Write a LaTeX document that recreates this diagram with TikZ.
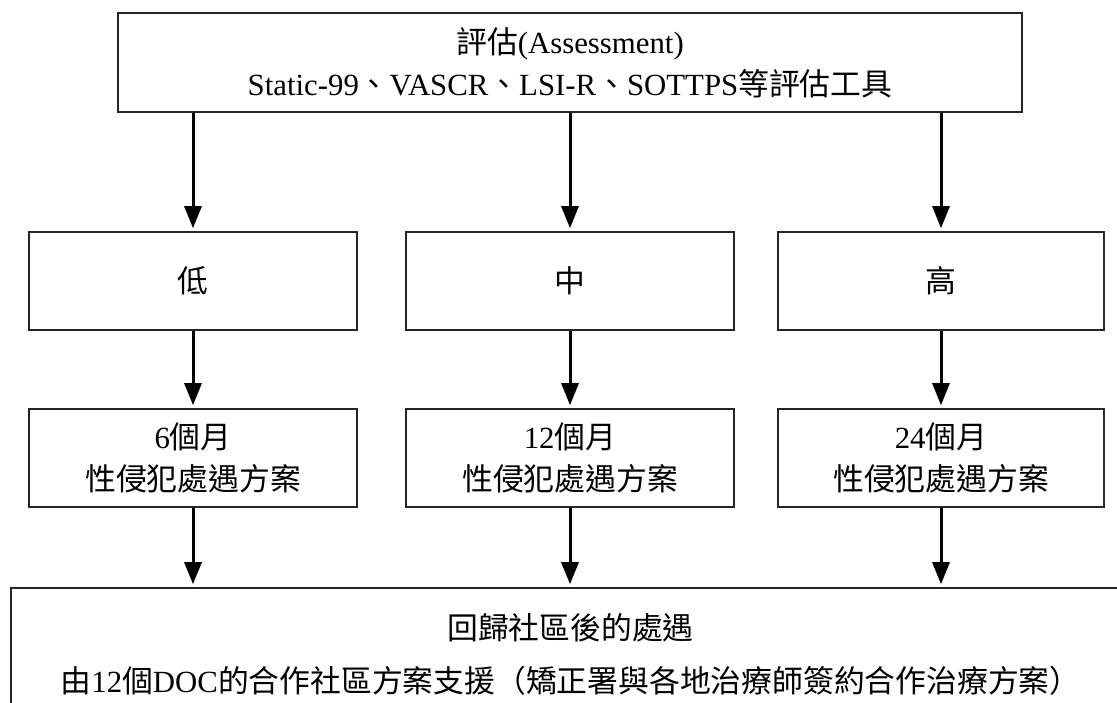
\documentclass[tikz,border=0pt]{standalone}
\usepackage{fontspec}
\setmainfont{Liberation Serif}
\newfontfamily\cjk{Noto Sans CJK TC}
\newcommand\zh[1]{{\cjk #1}}
\usetikzlibrary{arrows.meta}

\begin{document}
\begin{tikzpicture}[x=1pt,y=-1pt,line cap=butt,
			>={Triangle[length=22pt,width=17pt]},
			box/.style={draw=black!85,line width=1.6pt,rectangle,align=center,inner sep=0pt,
				minimum width=328pt,minimum height=98pt,font=\fontsize{30.8}{42}\selectfont},
			flow/.style={->,line width=3pt,shorten >=3pt}]
			\path[use as bounding box] (0,0) rectangle (1117,702);
			\clip (0,0) rectangle (1117,702);
			%\draw[help lines] (0,0) grid[step=100] (1117,702);
			\node[box,minimum width=904pt,minimum height=99pt] (assess) at (570,62.5)
				{\zh{評估}(Assessment)\\Static-99\zh{、}VASCR\zh{、}LSI-R\zh{、}SOTTPS\zh{等評估工具}};
			\node[box] (low) at (193,281) {\zh{低}};
			\node[box] (mid) at (570,281) {\zh{中}};
			\node[box,minimum width=326pt] (high) at (941,281) {\zh{高}};
			\node[box] (sixm) at (193,458) {6\zh{個月}\\\zh{性侵犯處遇方案}};
			\node[box] (twelvem) at (570,458) {12\zh{個月}\\\zh{性侵犯處遇方案}};
			\node[box,minimum width=326pt] (twentyfourm) at (941,458) {24\zh{個月}\\\zh{性侵犯處遇方案}};
			\node[box,minimum width=1119pt,minimum height=132pt,font=\fontsize{30.8}{53}\selectfont] (after) at (570.5,654)
				{\zh{回歸社區後的處遇}\\\zh{由}12\zh{個}DOC\zh{的合作社區方案支援（矯正署與各地治療師簽約合作治療方案）}};
			
			\foreach \b in {low,mid,high}
			\draw[flow] (assess.south -| \b.north) -- (\b.north);
			\foreach \a/\b in {low/sixm,mid/twelvem,high/twentyfourm}
			\draw[flow] (\a.south) -- (\b.north);
			\foreach \a in {sixm,twelvem,twentyfourm}
			\draw[flow] (\a.south) -- (after.north -| \a.south);
		\end{tikzpicture}
\end{document}
